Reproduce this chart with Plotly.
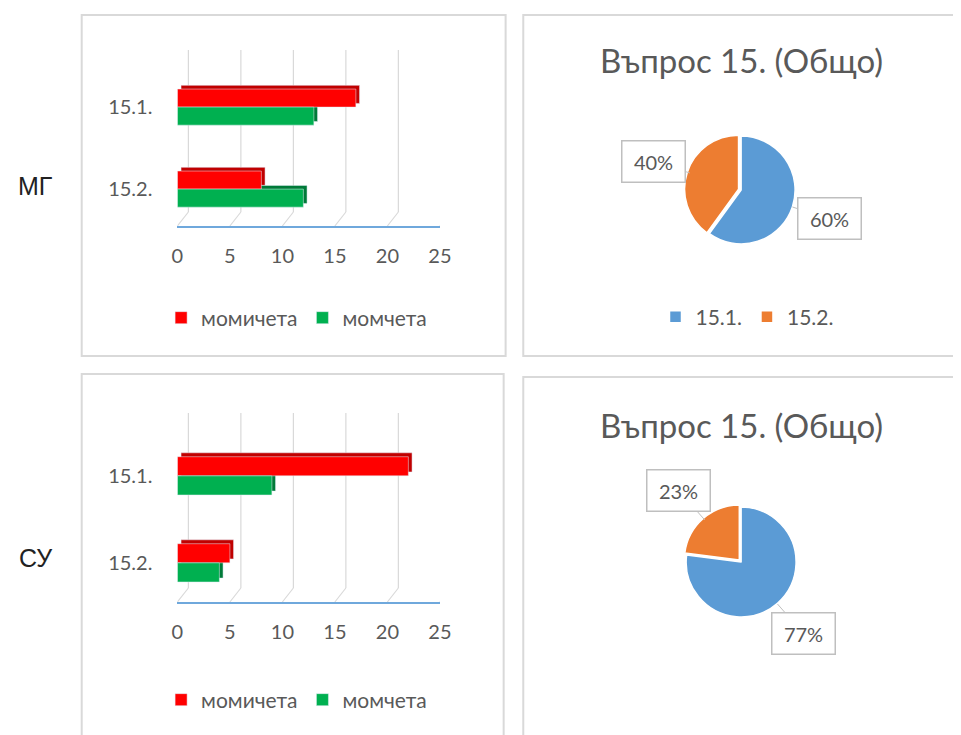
import math
import plotly.graph_objects as go

W, H = 961, 735
PAGE_OFFSET = 8  # the page body margin shifts the figure by 8 px

# data
categories = ['15.1.', '15.2.']
series_names = ['момичета', 'момчета']
mg_girls = [17, 8]
mg_boys = [13, 12]
su_girls = [22, 5]
su_boys = [9, 4]
pie_labels = ['15.1.', '15.2.']
pie_mg = [60, 40]
pie_su = [77, 23]
x_ticks = [0, 5, 10, 15, 20, 25]
pie_title = 'Въпрос 15. (Общо)'
row_labels = ['МГ', 'СУ']

RED, RED_DARK = '#FF0000', '#C00000'
GREEN, GREEN_DARK = '#00B050', '#007A38'
BLUE, ORANGE = '#5B9BD5', '#ED7D31'
GREY_TXT = '#595959'
FONT = 'Lato'


def px(x):
    return (x - PAGE_OFFSET) / W


def py(y):
    return 1 - (y - PAGE_OFFSET) / H


BAR_W = 0.22
DEPTH_X = 0.35
DEPTH_Y = 0.045

fig = go.Figure()
shapes = []
annotations = []

# bar panels: (girls, boys, axis suffix, legend, axis line y, category spacing, grid top)
bar_panels = [
    (mg_girls, mg_boys, '', 'legend', 226, 82, 50),
    (su_girls, su_boys, '2', 'legend2', 602, 87, 413),
]

for girls, boys, sfx, leg, line_y, step, grid_top in bar_panels:
    xa, ya = 'x' + sfx, 'y' + sfx
    # 3D shading drawn underneath
    for vals, dark, off in [(girls, RED_DARK, -BAR_W), (boys, GREEN_DARK, 0)]:
        fig.add_trace(go.Bar(y=categories, x=vals, base=DEPTH_X, orientation='h',
                             offset=off - DEPTH_Y, width=BAR_W, marker_color=dark,
                             showlegend=False, hoverinfo='skip', xaxis=xa, yaxis=ya))
    for name, vals, col, off in [(series_names[0], girls, RED, -BAR_W),
                                 (series_names[1], boys, GREEN, 0)]:
        fig.add_trace(go.Bar(y=categories, x=vals, name=name, orientation='h',
                             offset=off, width=BAR_W, marker_color=col,
                             legend=leg, xaxis=xa, yaxis=ya))

    top = line_y - 1.95 * step
    fig.update_layout({
        'xaxis' + sfx: dict(domain=[px(174.5), px(442)], range=[0, 25], anchor=ya,
                            tickvals=x_ticks, showgrid=False, zeroline=False,
                            showline=True, linecolor='#6FA8DC', linewidth=2,
                            ticks='', ticklabelstandoff=11,
                            tickfont=dict(family=FONT, size=20, color=GREY_TXT)),
        'yaxis' + sfx: dict(domain=[py(line_y), py(top)], range=[1.45, -0.5], anchor=xa,
                            showgrid=False, zeroline=False, showline=False, ticks='',
                            ticklabelstandoff=24,
                            tickfont=dict(family=FONT, size=20, color=GREY_TXT)),
    })
    # perspective gridlines at each tick
    for t in x_ticks:
        shapes.append(dict(type='line', xref=xa, yref='paper', xsizemode='pixel', xanchor=t,
                           x0=11, x1=11, y0=py(line_y - 14), y1=py(grid_top),
                           line=dict(color='#D9D9D9', width=1.2), layer='below'))
        shapes.append(dict(type='line', xref=xa, yref='paper', xsizemode='pixel', xanchor=t,
                           x0=0, x1=11, y0=py(line_y), y1=py(line_y - 14),
                           line=dict(color='#D9D9D9', width=1.2), layer='below'))

# pies: (values, center x, center y, radius, legend, title y)
pie_panels = [
    (pie_mg, 749, 190, 55, 'legend3', 60),
    (pie_su, 749, 562, 56, 'legend4', 425),
]
PULL = 0.05
for vals, cx, cy, r, leg, ty in pie_panels:
    half = r * (1 + PULL)
    fig.add_trace(go.Pie(labels=pie_labels, values=vals, sort=False, direction='clockwise',
                         rotation=0, pull=[0, PULL], textinfo='none', hoverinfo='label+percent',
                         marker=dict(colors=[BLUE, ORANGE], line=dict(color='white', width=1.5)),
                         domain=dict(x=[px(cx - half), px(cx + half)],
                                     y=[py(cy + half), py(cy - half)]),
                         legend=leg))
    annotations.append(dict(text=pie_title, x=px(cx), y=py(ty), xref='paper', yref='paper',
                            xanchor='center', yanchor='middle', showarrow=False,
                            font=dict(family=FONT, size=33, color=GREY_TXT)))
    # boxed percentage labels placed along each slice's mid-angle
    total = sum(vals)
    acc = 0
    for v in vals:
        mid = (acc + v / 2) / total * 2 * math.pi
        acc += v
        dx, dy = math.sin(mid), -math.cos(mid)
        annotations.append(dict(
            text=f'{round(v / total * 100)}%', xref='paper', yref='paper',
            x=px(cx + r * dx), y=py(cy + r * dy), ax=0.7 * r * dx, ay=0.7 * r * dy,
            showarrow=True, arrowhead=0, arrowwidth=1, arrowcolor='#BFBFBF',
            bordercolor='#BFBFBF', borderwidth=1.5, borderpad=8, bgcolor='white',
            width=46, height=24, font=dict(family=FONT, size=20, color=GREY_TXT)))

for lab, y in zip(row_labels, [186, 558]):
    annotations.append(dict(text=lab, x=px(30), y=py(y), xref='paper', yref='paper',
                            xanchor='center', yanchor='middle', showarrow=False,
                            font=dict(family='Liberation Sans', size=25, color='#222222')))

# panel frames
for x0, y0, x1, y1 in [(77, 15, 509, 356), (527, 15, 985, 356),
                       (77, 374, 507, 760), (527, 377, 985, 760)]:
    shapes.append(dict(type='rect', xref='paper', yref='paper', x0=px(x0), x1=px(x1),
                       y0=py(y0), y1=py(y1), line=dict(color='#D9D9D9', width=2),
                       layer='below'))

legend_font = dict(family=FONT, size=21, color=GREY_TXT)
leg_common = dict(orientation='h', xanchor='center', yanchor='middle', font=legend_font,
                  bgcolor='rgba(0,0,0,0)', itemwidth=30, traceorder='normal')

fig.update_layout(
    width=W, height=H, autosize=False,
    margin=dict(l=0, r=0, t=0, b=0),
    paper_bgcolor='white', plot_bgcolor='rgba(0,0,0,0)',
    barmode='overlay',
    shapes=shapes, annotations=annotations,
    legend=dict(x=px(296), y=py(318), **leg_common),
    legend2=dict(x=px(296), y=py(700), **leg_common),
    legend3=dict(x=px(755), y=py(317), **leg_common),
    legend4=dict(x=px(755), y=py(693), **leg_common),
)

fig.write_html('out.html')
